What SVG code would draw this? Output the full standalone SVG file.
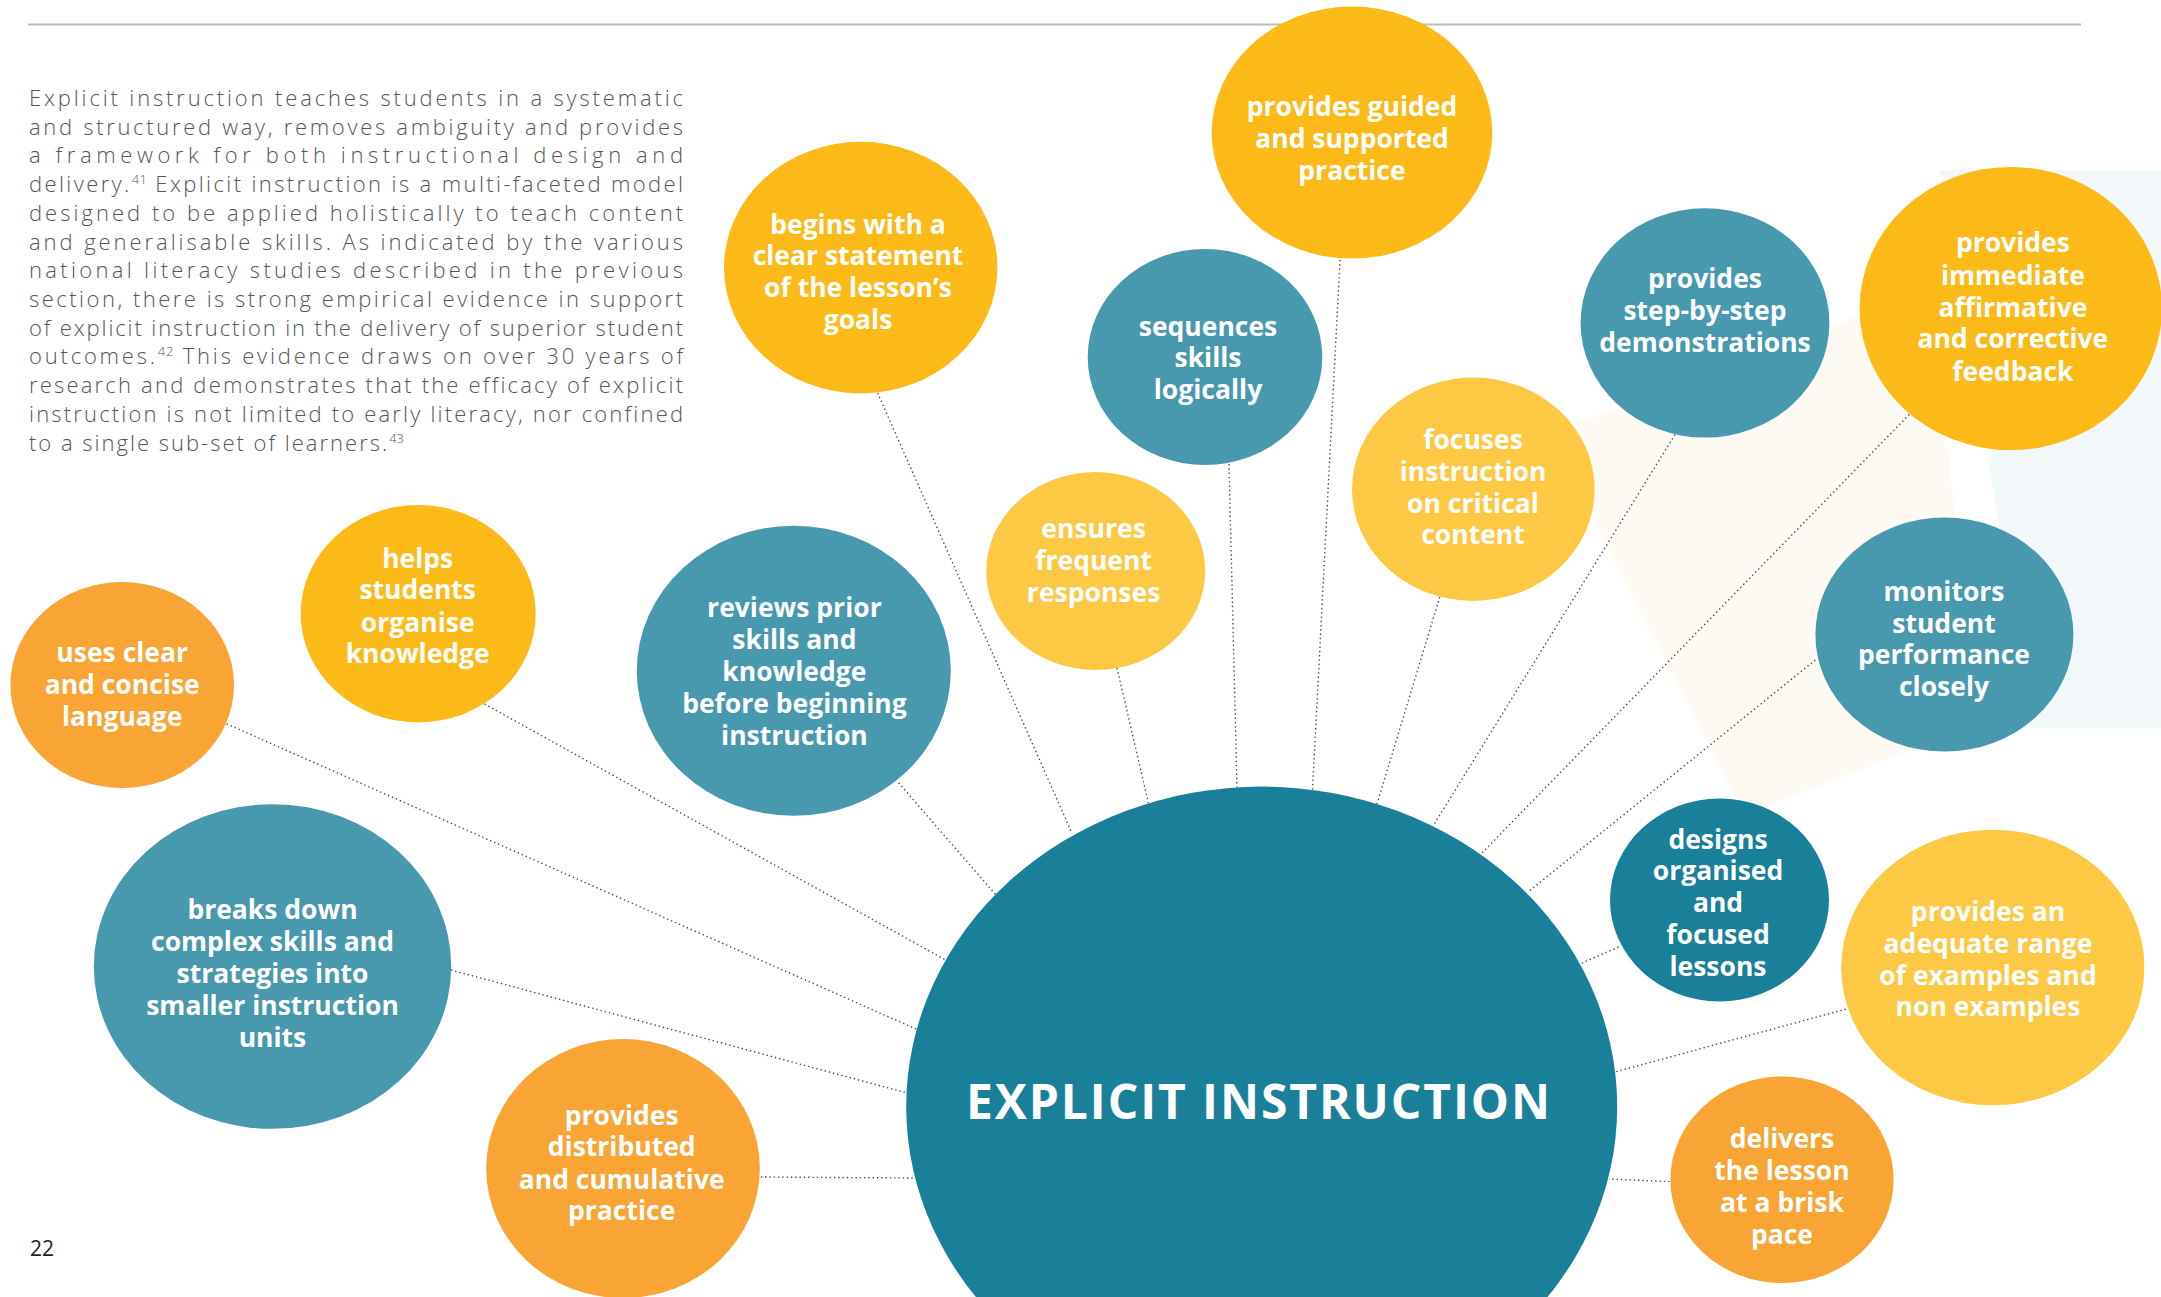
<svg xmlns="http://www.w3.org/2000/svg" width="2161" height="1297" viewBox="0 0 2161 1297">
<style>
.para{font-family:"Open Sans","Liberation Sans",sans-serif;font-weight:300;font-size:22px;letter-spacing:2px;fill:#555658}
.sup{font-size:13px;letter-spacing:0}
.lbl{font-family:"Open Sans","Liberation Sans",sans-serif;font-weight:700;font-size:26.5px;fill:#ffffff;text-anchor:middle}
.big{font-family:"Open Sans","Liberation Sans",sans-serif;font-weight:700;font-size:48px;fill:#ffffff}
.conn line{stroke:#4a4a4a;stroke-width:1.4;stroke-dasharray:1.4 2.9;fill:none}
.y{fill:#fbba17}.ly{fill:#fdc944}.o{fill:#f8a535}.t{fill:#4898ae}.dt{fill:#1a7f99}
</style>
<rect x="0" y="0" width="2161" height="1297" fill="#ffffff"/>
<g id="background">
<polygon points="1940,170 2161,170 2161,728 2033,728" fill="#f2f7fa"/>
<polygon points="1550,434 1931,288 1977,725 1744,815" fill="#fdfaf4"/>
<line x1="28" y1="24.5" x2="2081" y2="24.5" stroke="#bcbcbc" stroke-width="2"/>
</g>
<g id="paragraph" class="para">
<text x="29" y="106" textLength="656" lengthAdjust="spacing">Explicit instruction teaches students in a systematic</text>
<text x="29" y="134.7" textLength="656" lengthAdjust="spacing">and structured way, removes ambiguity and provides</text>
<text x="29" y="163.4" textLength="656" lengthAdjust="spacing">a framework for both instructional design and</text>
<text x="29" y="192.1" textLength="656" lengthAdjust="spacing">delivery.<tspan class="sup" dy="-8">41</tspan><tspan dy="8"> Explicit instruction is a multi-faceted model</tspan></text>
<text x="29" y="220.8" textLength="656" lengthAdjust="spacing">designed to be applied holistically to teach content</text>
<text x="29" y="249.5" textLength="656" lengthAdjust="spacing">and generalisable skills. As indicated by the various</text>
<text x="29" y="278.3" textLength="656" lengthAdjust="spacing">national literacy studies described in the previous</text>
<text x="29" y="307" textLength="656" lengthAdjust="spacing">section, there is strong empirical evidence in support</text>
<text x="29" y="335.7" textLength="656" lengthAdjust="spacing">of explicit instruction in the delivery of superior student</text>
<text x="29" y="364.4" textLength="656" lengthAdjust="spacing">outcomes.<tspan class="sup" dy="-8">42</tspan><tspan dy="8"> This evidence draws on over 30 years of</tspan></text>
<text x="29" y="393.1" textLength="656" lengthAdjust="spacing">research and demonstrates that the efficacy of explicit</text>
<text x="29" y="421.8" textLength="656" lengthAdjust="spacing">instruction is not limited to early literacy, nor confined</text>
<text x="29" y="450.5">to a single sub-set of learners.<tspan class="sup" dy="-8">43</tspan></text>
</g>
<text id="page-number" x="30" y="1256" font-family="Open Sans, Liberation Sans, sans-serif" font-size="21" fill="#231f20">22</text>
<g id="connectors" class="conn">
<line x1="226.7" y1="723.9" x2="920.6" y2="1031"/>
<line x1="484.6" y1="704" x2="951" y2="963"/>
<line x1="451" y1="970" x2="907" y2="1093"/>
<line x1="760.8" y1="1177" x2="915" y2="1178"/>
<line x1="898.6" y1="782.8" x2="999" y2="898.6"/>
<line x1="877.6" y1="392.9" x2="1072.2" y2="833.8"/>
<line x1="1117" y1="668" x2="1148.4" y2="803"/>
<line x1="1229" y1="464" x2="1237" y2="788"/>
<line x1="1340" y1="260" x2="1312.5" y2="790"/>
<line x1="1439.8" y1="597" x2="1377" y2="804"/>
<line x1="1675" y1="434.6" x2="1433" y2="826"/>
<line x1="1912.3" y1="411.4" x2="1480" y2="855"/>
<line x1="1815.3" y1="660" x2="1528" y2="892"/>
<line x1="1618.5" y1="947" x2="1580" y2="964"/>
<line x1="1850" y1="1008" x2="1615" y2="1072"/>
<line x1="1669.5" y1="1181.6" x2="1609" y2="1179"/>
</g>
<g id="node-explicit-instruction">
<ellipse class="dt" cx="1261.7" cy="1106.6" rx="355.5" ry="320"/>
<text class="big" x="966" y="1119" textLength="584" lengthAdjust="spacing">EXPLICIT INSTRUCTION</text>
</g>
<g id="node-guided-practice">
<ellipse class="y" cx="1352" cy="132.6" rx="140.3" ry="126"/>
<text class="lbl" x="1352"><tspan x="1352" y="116.3">provides guided</tspan><tspan x="1352" y="148">and supported</tspan><tspan x="1352" y="179.6">practice</tspan></text>
</g>
<g id="node-begins">
<ellipse class="y" cx="860.7" cy="267.6" rx="136.7" ry="125.8"/>
<text class="lbl"><tspan x="858" y="233.7">begins with a</tspan><tspan x="858" y="265.3">clear statement</tspan><tspan x="858" y="297.4">of the lesson’s</tspan><tspan x="858" y="329">goals</tspan></text>
</g>
<g id="node-sequences">
<ellipse class="t" cx="1205" cy="357" rx="117.3" ry="108"/>
<text class="lbl"><tspan x="1208" y="335.7">sequences</tspan><tspan x="1208" y="367.3">skills</tspan><tspan x="1208" y="399">logically</tspan></text>
</g>
<g id="node-ensures">
<ellipse class="ly" cx="1095.7" cy="571" rx="109.5" ry="99"/>
<text class="lbl"><tspan x="1093.6" y="538.3">ensures</tspan><tspan x="1093.6" y="569.9">frequent</tspan><tspan x="1093.6" y="602">responses</tspan></text>
</g>
<g id="node-focuses">
<ellipse class="ly" cx="1473.3" cy="489.3" rx="121.3" ry="111.7"/>
<text class="lbl"><tspan x="1473" y="449">focuses</tspan><tspan x="1473" y="480.6">instruction</tspan><tspan x="1473" y="512.8">on critical</tspan><tspan x="1473" y="544.4">content</tspan></text>
</g>
<g id="node-step-by-step">
<ellipse class="t" cx="1705" cy="322.9" rx="124.4" ry="114.7"/>
<text class="lbl"><tspan x="1705" y="288.3">provides</tspan><tspan x="1705" y="319.5">step-by-step</tspan><tspan x="1705" y="351.5">demonstrations</tspan></text>
</g>
<g id="node-feedback">
<ellipse class="y" cx="2010.8" cy="308.5" rx="151.2" ry="141.6"/>
<text class="lbl"><tspan x="2012.9" y="252.4">provides</tspan><tspan x="2012.9" y="284.9">immediate</tspan><tspan x="2012.9" y="317">affirmative</tspan><tspan x="2012.9" y="348.1">and corrective</tspan><tspan x="2012.9" y="380.6">feedback</tspan></text>
</g>
<g id="node-reviews">
<ellipse class="t" cx="793.8" cy="670.7" rx="157" ry="145"/>
<text class="lbl"><tspan x="794.4" y="617.3">reviews prior</tspan><tspan x="794.4" y="649">skills and</tspan><tspan x="794.4" y="681">knowledge</tspan><tspan x="794.4" y="712.8">before beginning</tspan><tspan x="794.4" y="745">instruction</tspan></text>
</g>
<g id="node-helps">
<ellipse class="y" cx="418.2" cy="613.7" rx="117.5" ry="108.7"/>
<text class="lbl"><tspan x="417.7" y="567.5">helps</tspan><tspan x="417.7" y="599.3">students</tspan><tspan x="417.7" y="631.6">organise</tspan><tspan x="417.7" y="663.4">knowledge</tspan></text>
</g>
<g id="node-uses-clear">
<ellipse class="o" cx="122.2" cy="685" rx="111.8" ry="103"/>
<text class="lbl"><tspan x="122.2" y="662.4">uses clear</tspan><tspan x="122.2" y="694.2">and concise</tspan><tspan x="122.2" y="726">language</tspan></text>
</g>
<g id="node-breaks-down">
<ellipse class="t" cx="272.5" cy="966.5" rx="178.7" ry="162.3"/>
<text class="lbl"><tspan x="272.5" y="919.3">breaks down</tspan><tspan x="272.5" y="951">complex skills and</tspan><tspan x="272.5" y="982.9">strategies into</tspan><tspan x="272.5" y="1015.2">smaller instruction</tspan><tspan x="272.5" y="1047">units</tspan></text>
</g>
<g id="node-distributed">
<ellipse class="o" cx="623" cy="1168.6" rx="136.8" ry="129.5"/>
<text class="lbl"><tspan x="621.7" y="1124.6">provides</tspan><tspan x="621.7" y="1156.4">distributed</tspan><tspan x="621.7" y="1188.7">and cumulative</tspan><tspan x="621.7" y="1220">practice</tspan></text>
</g>
<g id="node-monitors">
<ellipse class="t" cx="1944.4" cy="634.6" rx="129" ry="117"/>
<text class="lbl"><tspan x="1944" y="601">monitors</tspan><tspan x="1944" y="632.7">student</tspan><tspan x="1944" y="664.3">performance</tspan><tspan x="1944" y="696.4">closely</tspan></text>
</g>
<g id="node-designs">
<ellipse class="dt" cx="1719.5" cy="900" rx="109.5" ry="101.4"/>
<text class="lbl"><tspan x="1718" y="848.6">designs</tspan><tspan x="1718" y="880.4">organised</tspan><tspan x="1718" y="912.2">and</tspan><tspan x="1718" y="944">focused</tspan><tspan x="1718" y="975.8">lessons</tspan></text>
</g>
<g id="node-examples">
<ellipse class="ly" cx="1992.8" cy="967.5" rx="151.6" ry="137.8"/>
<text class="lbl"><tspan x="1988" y="921">provides an</tspan><tspan x="1988" y="952.8">adequate range</tspan><tspan x="1988" y="984.6">of examples and</tspan><tspan x="1988" y="1016.4">non examples</tspan></text>
</g>
<g id="node-delivers">
<ellipse class="o" cx="1782" cy="1179.7" rx="111.6" ry="103.3"/>
<text class="lbl"><tspan x="1782" y="1148.3">delivers</tspan><tspan x="1782" y="1180.1">the lesson</tspan><tspan x="1782" y="1211.9">at a brisk</tspan><tspan x="1782" y="1243.7">pace</tspan></text>
</g>
</svg>
